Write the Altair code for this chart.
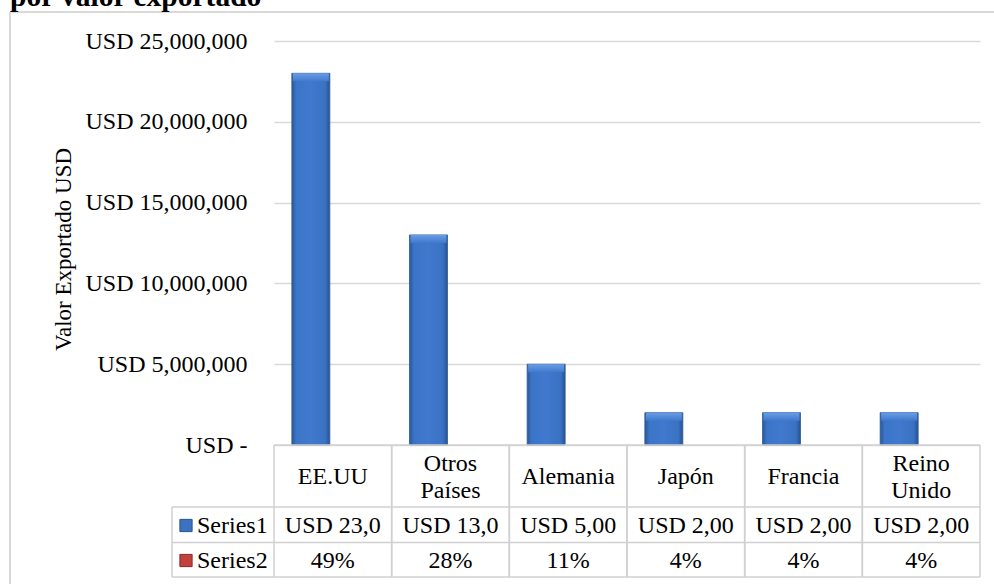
import altair as alt
import pandas as pd

# ---- data ----
categories = ["EE.UU", "Otros Países", "Alemania", "Japón", "Francia", "Reino Unido"]
category_labels = ["EE.UU", "Otros\nPaíses", "Alemania", "Japón", "Francia", "Reino\nUnido"]
series1_values = [23000000, 13000000, 5000000, 2000000, 2000000, 2000000]
series1_labels = ["USD 23,0", "USD 13,0", "USD 5,00", "USD 2,00", "USD 2,00", "USD 2,00"]
series2_labels = ["49%", "28%", "11%", "4%", "4%", "4%"]
series_names = ["Series1", "Series2"]
y_ticks = [0, 5000000, 10000000, 15000000, 20000000, 25000000]
chart_title = "por valor exportado"
y_title = "Valor Exportado USD"

df = pd.DataFrame({
    "cat": categories,
    "label": category_labels,
    "value": series1_values,
    "s1": series1_labels,
    "s2": series2_labels,
})

FONT = "Liberation Serif"
FS = 24
W, H = 706, 404
GRID = "#d9d9d9"
TLINE = "#d0d0d0"
LH = 27


def xenc(**kw):
    return alt.X("cat:N", sort=categories,
                 scale=alt.Scale(paddingInner=0, paddingOuter=0), axis=None, **kw)


base = alt.Chart(df)

bar_grad = alt.Gradient(
    gradient="linear", x1=0, x2=1, y1=0, y2=0,
    stops=[alt.GradientStop(color="#2a5798", offset=0),
           alt.GradientStop(color="#3b75c8", offset=0.12),
           alt.GradientStop(color="#4079cd", offset=0.5),
           alt.GradientStop(color="#3a72c3", offset=0.88),
           alt.GradientStop(color="#28528f", offset=1)])

bevel_grad = alt.Gradient(
    gradient="linear", x1=0, x2=0, y1=0, y2=1,
    stops=[alt.GradientStop(color="#6a9de6", offset=0),
           alt.GradientStop(color="#4079cd", offset=1)])

bars = base.mark_bar(width=38, xOffset=-22, stroke="#2d5a98", strokeWidth=0.8, fill=bar_grad).encode(
    x=xenc(),
    y=alt.Y("value:Q",
            scale=alt.Scale(domain=[0, 25000000], nice=False),
            axis=alt.Axis(
                values=y_ticks,
                labelExpr="datum.value == 0 ? 'USD -' : 'USD ' + format(datum.value, ',')",
                labelFont=FONT, labelFontSize=FS, labelColor="black",
                labelPadding=27, ticks=False, domain=False,
                grid=True, gridColor=GRID, gridWidth=1.5,
                title=y_title, titleFont=FONT, titleFontSize=23,
                titleFontWeight="normal", titleColor="black",
                titleX=-211, titleY=208, titleBaseline="middle", titleAlign="center")),
)

bevel = base.mark_bar(width=36, xOffset=-22, y2Offset=8, fill=bevel_grad).encode(
    x=xenc(),
    y=alt.Y("value:Q"),
    y2=alt.Y2("value:Q"),
)

# ---- data table below the plot ----
vlines_left = base.mark_rule(color=TLINE, strokeWidth=1.5).encode(
    x=xenc(bandPosition=0), y=alt.value(H), y2=alt.value(H + 132))
vlines_right = base.mark_rule(color=TLINE, strokeWidth=1.5).encode(
    x=xenc(bandPosition=1), y=alt.value(H), y2=alt.value(H + 132))

frame_src = alt.Chart(pd.DataFrame({"k": [0]}))
hlines = alt.layer(
    frame_src.mark_rule(color=TLINE, strokeWidth=1.5).encode(
        x=alt.value(0), x2=alt.value(W), y=alt.value(H)),
    frame_src.mark_rule(color=TLINE, strokeWidth=1.5).encode(
        x=alt.value(-102), x2=alt.value(W), y=alt.value(H + 62)),
    frame_src.mark_rule(color=TLINE, strokeWidth=1.5).encode(
        x=alt.value(-102), x2=alt.value(W), y=alt.value(H + 97.5)),
    frame_src.mark_rule(color=TLINE, strokeWidth=1.5).encode(
        x=alt.value(-102), x2=alt.value(W), y=alt.value(H + 132)),
    frame_src.mark_rule(color=TLINE, strokeWidth=1.5).encode(
        x=alt.value(-102), y=alt.value(H + 62), y2=alt.value(H + 132)),
)

header_one = base.transform_filter("indexof(datum.label, '\\n') < 0").mark_text(
    font=FONT, fontSize=FS, color="black", baseline="middle", align="center").encode(
    x=xenc(), y=alt.value(H + 32), text="label:N")
header_two = base.transform_filter("indexof(datum.label, '\\n') >= 0").mark_text(
    font=FONT, fontSize=FS, color="black", lineBreak="\n", lineHeight=LH,
    baseline="middle", align="center", dy=-LH / 2).encode(
    x=xenc(), y=alt.value(H + 32), text="label:N")
s1_txt = base.mark_text(font=FONT, fontSize=FS, color="black", baseline="middle",
                        align="center").encode(
    x=xenc(), y=alt.value(H + 80.5), text="s1:N")
s2_txt = base.mark_text(font=FONT, fontSize=FS, color="black", baseline="middle",
                        align="center").encode(
    x=xenc(), y=alt.value(H + 115.5), text="s2:N")

leg_df = pd.DataFrame({"name": series_names})
leg1 = alt.Chart(leg_df[leg_df.name == "Series1"])
leg2 = alt.Chart(leg_df[leg_df.name == "Series2"])
legend = alt.layer(
    leg1.mark_square(size=150, color="#3c72c0", stroke="#2a558f", strokeWidth=1, opacity=1).encode(
        x=alt.value(-88), y=alt.value(H + 80.5)),
    leg1.mark_text(font=FONT, fontSize=FS, color="black", align="left", baseline="middle").encode(
        x=alt.value(-77), y=alt.value(H + 80.5), text="name:N"),
    leg2.mark_square(size=150, color="#c0413d", stroke="#8e2a28", strokeWidth=1, opacity=1).encode(
        x=alt.value(-88), y=alt.value(H + 115.5)),
    leg2.mark_text(font=FONT, fontSize=FS, color="black", align="left", baseline="middle").encode(
        x=alt.value(-77), y=alt.value(H + 115.5), text="name:N"),
)

# ---- outer frame and cut-off title ----
frame = alt.layer(
    frame_src.mark_rule(color=GRID, strokeWidth=2).encode(
        x=alt.value(-264), y=alt.value(-29), y2=alt.value(560)),
    frame_src.mark_rule(color=GRID, strokeWidth=2).encode(
        x=alt.value(-264), x2=alt.value(740), y=alt.value(-29)),
)
title_df = pd.DataFrame({"t": [chart_title]})
title = alt.Chart(title_df).mark_text(font=FONT, fontSize=29.5, fontWeight="bold", color="black",
                                      align="left", baseline="alphabetic").encode(
    x=alt.value(-264), y=alt.value(-35.5), text="t:N")

chart = alt.layer(
    frame, title, bars, bevel, vlines_left, vlines_right, hlines,
    header_one, header_two, s1_txt, s2_txt, legend,
).properties(
    width=W, height=H,
    autosize=alt.AutoSizeParams(type="none"),
    padding={"left": 274, "top": 41, "right": 14, "bottom": 139},
    background="white",
).configure_view(stroke=None)

chart.save("out.html", embed_options={"renderer": "svg", "actions": False})
